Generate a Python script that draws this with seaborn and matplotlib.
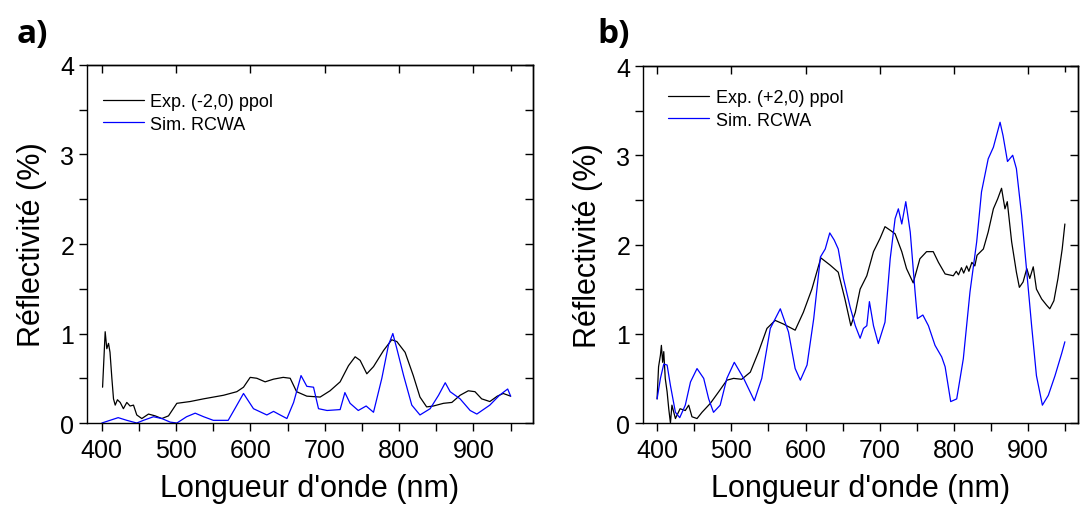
import matplotlib
matplotlib.use("Agg")
import matplotlib.pyplot as plt
import seaborn as sns
from matplotlib.ticker import FixedLocator, MultipleLocator

# panel a) : order (-2,0)
wl_exp_a = [401, 404.5, 406.7, 409, 411, 413.5, 415.7, 418, 421, 424.7, 429, 433.6, 438, 442.6,
            447, 453.8, 462.8, 471.7, 480.7, 489.7, 500.9, 518.8, 536.8, 563.7, 581.6, 590.6,
            599.6, 608.5, 619.7, 631, 644, 653.4, 662, 675.8, 693.7, 707, 720.6, 731.8, 740.8,
            747.5, 756.5, 765.5, 779, 790, 796.9, 808, 819, 828, 837, 846, 859.6, 870.9, 882,
            893, 902, 911, 922, 932, 940, 950]
refl_exp_a = [0.40, 1.02, 0.83, 0.89, 0.79, 0.50, 0.27, 0.20, 0.26, 0.23, 0.16, 0.23, 0.19, 0.20,
              0.09, 0.05, 0.10, 0.08, 0.05, 0.08, 0.22, 0.24, 0.27, 0.31, 0.35, 0.40, 0.51,
              0.50, 0.46, 0.49, 0.51, 0.50, 0.35, 0.30, 0.29, 0.36, 0.46, 0.64, 0.74, 0.70,
              0.55, 0.63, 0.81, 0.93, 0.91, 0.79, 0.53, 0.29, 0.18, 0.19, 0.22, 0.23, 0.31,
              0.36, 0.35, 0.27, 0.24, 0.30, 0.33, 0.30]
wl_sim_a = [400, 411, 422, 433.6, 447, 456, 469.5, 480.7, 492, 501, 514, 525.6, 537, 550, 570,
            579, 590.6, 604, 622, 631, 637.6, 649, 658, 668, 675.8, 684.8, 691.5, 703, 720.6,
            727, 734, 745, 755.6, 765.5, 776.7, 785.6, 791.5, 796.9, 806, 817, 828, 841.7,
            853, 862, 868.6, 882, 895.5, 904.5, 922, 935, 946, 950]
refl_sim_a = [0.0, 0.03, 0.06, 0.03, 0.0, 0.03, 0.07, 0.05, 0.01, 0.0, 0.07, 0.11, 0.07, 0.03,
              0.03, 0.16, 0.33, 0.16, 0.09, 0.13, 0.10, 0.05, 0.23, 0.53, 0.41, 0.40, 0.16,
              0.14, 0.15, 0.34, 0.22, 0.14, 0.19, 0.12, 0.50, 0.87, 1.00, 0.83, 0.53, 0.20,
              0.09, 0.16, 0.31, 0.45, 0.35, 0.27, 0.14, 0.10, 0.20, 0.31, 0.38, 0.30]

# panel b) : order (+2,0)
wl_exp_b = [400, 402, 404.5, 405.8, 407.5, 409, 411, 413.5, 415.7, 418, 420, 424.7, 431, 438,
            442.6, 447, 453.8, 460.5, 471.7, 483, 494, 503, 514, 525.6, 536.8, 548, 559, 570,
            586, 597, 608.5, 620.6, 633, 644, 653, 661, 667, 673.5, 682.5, 691.5, 700.4, 707,
            714, 720.6, 729.6, 736, 745, 754, 763, 772, 779, 788, 799, 803, 806, 810, 813, 817,
            820, 824, 828, 831, 839.5, 846, 853, 858.7, 864, 868.6, 871.7, 877.6, 884, 888,
            893, 898, 902, 906.7, 911, 918, 924.7, 929, 934.5, 940, 945.7, 949.3]
refl_exp_b = [0.27, 0.63, 0.76, 0.87, 0.68, 0.80, 0.50, 0.35, 0.16, 0.0, 0.20, 0.05, 0.16, 0.14,
              0.20, 0.07, 0.05, 0.12, 0.22, 0.35, 0.48, 0.50, 0.49, 0.57, 0.80, 1.06, 1.15,
              1.11, 1.04, 1.24, 1.50, 1.85, 1.77, 1.69, 1.39, 1.09, 1.24, 1.50, 1.65, 1.92,
              2.07, 2.20, 2.16, 2.12, 1.92, 1.73, 1.57, 1.84, 1.92, 1.92, 1.80, 1.67, 1.65,
              1.70, 1.66, 1.74, 1.68, 1.76, 1.70, 1.80, 1.76, 1.88, 1.95, 2.14, 2.40, 2.51,
              2.63, 2.40, 2.48, 2.03, 1.69, 1.52, 1.58, 1.73, 1.62, 1.75, 1.50, 1.39, 1.32,
              1.28, 1.37, 1.62, 1.95, 2.23]
wl_sim_b = [400, 404.5, 409, 413.5, 418, 424.7, 430.5, 438, 445, 453.8, 462.8, 469.5, 476, 485,
            494, 504, 516.6, 531, 541, 552.5, 566, 577, 586, 593, 602, 611, 620, 626.5, 632.6,
            638.6, 644, 651, 660, 667, 673.5, 678, 682.5, 686, 691.5, 698, 707, 714, 720.6,
            725, 729.6, 735, 741, 747.5, 750.7, 758, 765.5, 774.4, 783.4, 788, 795.5, 803.6,
            812.5, 821.5, 830.5, 837, 846, 853, 862, 866, 872, 879, 884, 891, 898, 904.5, 911,
            919, 927, 936, 945, 949.3]
refl_sim_b = [0.27, 0.50, 0.66, 0.65, 0.42, 0.12, 0.06, 0.20, 0.46, 0.61, 0.50, 0.27, 0.12, 0.20,
              0.50, 0.68, 0.50, 0.25, 0.50, 1.06, 1.28, 1.02, 0.61, 0.48, 0.65, 1.17, 1.86,
              1.95, 2.13, 2.05, 1.95, 1.62, 1.30, 1.09, 0.95, 1.06, 1.09, 1.36, 1.09, 0.89,
              1.13, 1.84, 2.29, 2.40, 2.23, 2.48, 2.14, 1.47, 1.17, 1.21, 1.09, 0.87, 0.74,
              0.63, 0.24, 0.27, 0.72, 1.47, 2.03, 2.59, 2.96, 3.09, 3.37, 3.22, 2.93, 3.00,
              2.85, 2.33, 1.69, 1.09, 0.53, 0.20, 0.31, 0.53, 0.78, 0.91]

panels = [
    ("a)", "Exp. (-2,0) ppol", wl_exp_a, refl_exp_a, wl_sim_a, refl_sim_a, (380, 980)),
    ("b)", "Exp. (+2,0) ppol", wl_exp_b, refl_exp_b, wl_sim_b, refl_sim_b, (381, 967)),
]

sns.set_style("ticks")
plt.rcParams["font.family"] = ["Liberation Sans", "DejaVu Sans"]
for key in ["axes.edgecolor", "text.color", "axes.labelcolor", "xtick.color", "ytick.color"]:
    plt.rcParams[key] = "black"
plt.rcParams["axes.linewidth"] = 1.0

fig = plt.figure(figsize=(10.83, 5.10), dpi=100)
rects = [[0.0803, 0.1686, 0.4118, 0.702], [0.5937, 0.1686, 0.4017, 0.700]]
legend_anchor = [(0.035, 0.922), (0.057, 0.936)]
label_pos = [(0.015, 0.915), (0.552, 0.915)]

for (tag, exp_label, wx, rx, ws, rs, xlim), rect, anchor, lpos in zip(
        panels, rects, legend_anchor, label_pos):
    ax = fig.add_axes(rect)
    sns.lineplot(x=wx, y=rx, ax=ax, color="black", lw=0.9, label=exp_label, estimator=None)
    sns.lineplot(x=ws, y=rs, ax=ax, color="#0000ff", lw=0.9, label="Sim. RCWA", estimator=None)
    ax.set_xlim(*xlim)
    ax.set_ylim(0, 4)
    ax.xaxis.set_major_locator(FixedLocator([400, 500, 600, 700, 800, 900]))
    ax.xaxis.set_minor_locator(FixedLocator([450, 550, 650, 750, 850, 950]))
    ax.yaxis.set_major_locator(MultipleLocator(1))
    ax.yaxis.set_minor_locator(MultipleLocator(0.5))
    ax.tick_params(which="both", direction="out", labelsize=18, width=1.0, length=6, pad=3)
    ax.tick_params(axis="x", which="both", pad=5)
    ax.set_xlabel("Longueur d'onde (nm)", fontsize=22, labelpad=8)
    ax.set_ylabel("Réflectivité (%)", fontsize=22, labelpad=10)

    top = ax.secondary_xaxis("top")
    top.xaxis.set_major_locator(FixedLocator([400, 500, 600, 700, 800, 900]))
    top.xaxis.set_minor_locator(FixedLocator([950]))
    top.tick_params(which="both", direction="in", labeltop=False, width=1.0)
    top.tick_params(which="major", length=6)
    top.tick_params(which="minor", length=4)
    right = ax.secondary_yaxis("right")
    right.yaxis.set_major_locator(MultipleLocator(0.5))
    right.tick_params(which="both", direction="in", labelright=False, length=6, width=1.0)

    ax.legend(loc="upper left", bbox_to_anchor=anchor, frameon=False, fontsize=13,
              handlelength=2.3, handletextpad=0.35, labelspacing=0.32,
              borderaxespad=0.0, borderpad=0.0)
    fig.text(lpos[0], lpos[1], tag, fontsize=24, fontweight="bold",
             family=["Open Sans", "DejaVu Sans"])

fig.savefig("out.png", dpi=100)
